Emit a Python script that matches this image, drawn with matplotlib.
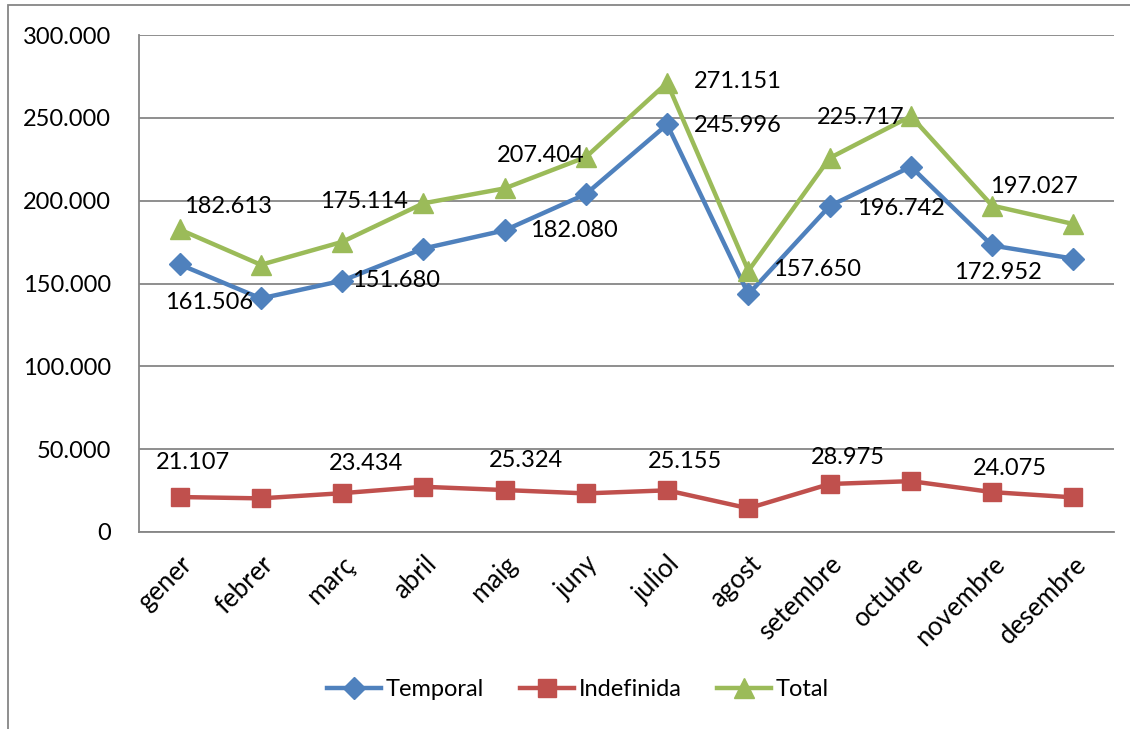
import matplotlib
matplotlib.use("Agg")
import matplotlib.pyplot as plt
from matplotlib.ticker import FuncFormatter, MultipleLocator
from matplotlib.patches import Rectangle

months = ["gener", "febrer", "març", "abril", "maig", "juny", "juliol",
          "agost", "setembre", "octubre", "novembre", "desembre"]
temporal = [161506, 141000, 151680, 171100, 182080, 204000, 245996,
            143500, 196742, 220500, 172952, 165000]
indefinida = [21107, 20300, 23434, 27300, 25324, 23300, 25155,
              14300, 28975, 30700, 24075, 20900]
total = [182613, 161300, 175114, 198400, 207404, 226300, 271151,
         157650, 225717, 251000, 197027, 185900]

# which points carry a data label (index -> pixel offset dx, dy)
temporal_labels = {0: (29, -38), 2: (54, 0), 4: (69, 0), 6: (71, -1),
                   8: (71, -2), 10: (6, -27)}
indef_labels = {0: (13, 35), 2: (24, 30), 4: (21, 30), 6: (18, 29),
                8: (18, 26), 10: (18, 24)}
total_labels = {0: (48, 23), 2: (22, 40), 4: (36, 33), 6: (71, 1),
                7: (69, 1), 8: (31, 41), 10: (42, 19)}

plt.rcParams['font.family'] = ['Lato', 'DejaVu Sans']
FS = 17

W, H = 1130, 729
fig = plt.figure(figsize=(W / 100, H / 100), dpi=100)
fig.patches.append(Rectangle((8 / W, -0.05), 1.2, 1 - 5 / H + 0.05,
                             transform=fig.transFigure, fill=False,
                             edgecolor='#868686', linewidth=1.3))
ax = fig.add_axes([139 / W, 1 - 532 / H, (1114 - 139) / W, (532 - 35) / H])

def fmt(v):
    return f"{int(round(v)):,}".replace(",", ".")

x = list(range(len(months)))
blue, red, green = '#4F81BD', '#C0504D', '#9BBB59'
lt, = ax.plot(x, temporal, color=blue, lw=3.2, marker='D', ms=11,
              label='Temporal', zorder=3)
li, = ax.plot(x, indefinida, color=red, lw=3.2, marker='s', ms=13,
              label='Indefinida', zorder=3)
lo, = ax.plot(x, total, color=green, lw=3.2, marker='^', ms=14,
              label='Total', zorder=3)

for series, labels in ((temporal, temporal_labels), (indefinida, indef_labels),
                       (total, total_labels)):
    for i, (dx, dy) in labels.items():
        ax.annotate(fmt(series[i]), (i, series[i]), xytext=(dx, dy),
                    textcoords='offset pixels', ha='center', va='center',
                    fontsize=FS, color='black', zorder=4)

ax.set_xlim(-0.5, len(months) - 0.5)
ax.set_ylim(0, 300000)
ax.yaxis.set_major_locator(MultipleLocator(50000))
ax.yaxis.set_major_formatter(FuncFormatter(lambda v, p: fmt(v)))
ax.grid(axis='y', color='#868686', lw=1.3)
ax.set_axisbelow(True)
for s in ('top', 'right'):
    ax.spines[s].set_visible(False)
for s in ('left', 'bottom'):
    ax.spines[s].set_color('#868686')
    ax.spines[s].set_linewidth(1.3)
ax.tick_params(axis='y', length=0, pad=20, labelsize=FS)
ax.tick_params(axis='x', length=0, pad=14, labelsize=18.5)
ax.set_xticks(x)
ax.set_xticklabels(months, rotation=45, ha='right', va='top',
                   rotation_mode='anchor')

fig.legend(handles=[lt, li, lo], loc='center', bbox_to_anchor=(578 / W, 1 - 690 / H),
           ncol=3, frameon=False, fontsize=FS, handlelength=2.3,
           columnspacing=1.5, handletextpad=0.2)

fig.savefig('out.png', dpi=100)
